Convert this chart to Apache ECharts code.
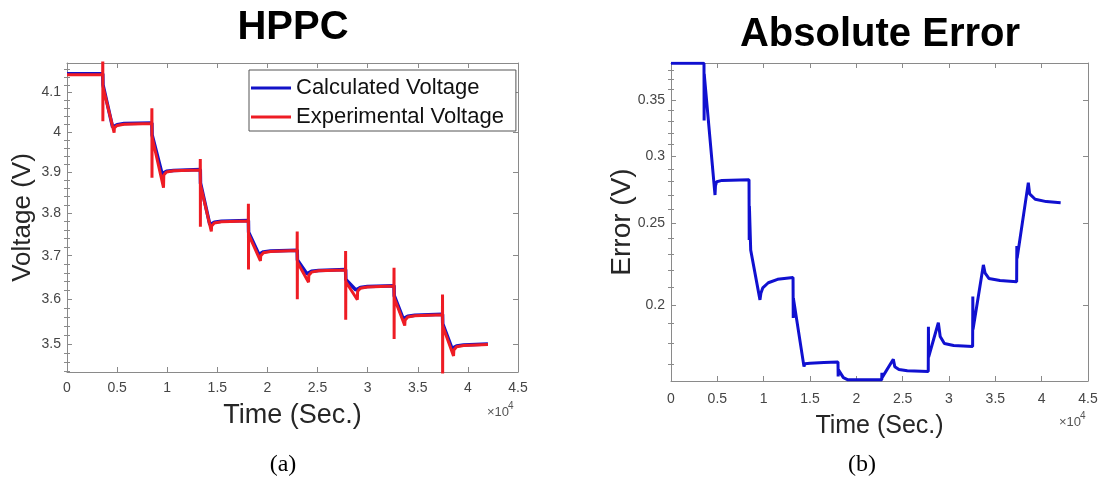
<!DOCTYPE html>
<html>
<head>
<meta charset="utf-8">
<script src="https://cdn.jsdelivr.net/npm/echarts@6/dist/echarts.min.js"></script>
<style>
  html, body { margin: 0; padding: 0; background: #fff; }
  #chart { width: 1102px; height: 480px; }
</style>
</head>
<body>
<div id="chart"></div>
<script>
// HPPC experimental voltage (red)
var expTime = [0, 3560, 3570, 3575, 3580, 3590, 4700, 4730, 5000, 5700, 8460,
    8470, 8475, 8480, 8490, 9630, 9660, 9930, 10630, 13290,
    13300, 13305, 13310, 13320, 14400, 14430, 14700, 15400, 18090,
    18100, 18105, 18110, 18120, 19300, 19330, 19600, 20300, 22960,
    22970, 22975, 22980, 22990, 24100, 24130, 24400, 25100, 27790,
    27800, 27805, 27810, 27820, 28970, 29000, 29270, 29970, 32620,
    32630, 32635, 32640, 32650, 33700, 33730, 34000, 34700, 37460,
    37470, 37475, 37480, 37490, 38570, 38600, 38870, 39570, 42000];
var expVolt = [4.146, 4.146, 4.21, 4.146, 4.027, 4.115, 3.998, 4.010, 4.016, 4.019, 4.021,
    4.06, 4.021, 3.886, 3.987, 3.862, 3.893, 3.900, 3.903, 3.905,
    3.932, 3.905, 3.768, 3.868, 3.757, 3.770, 3.777, 3.780, 3.782,
    3.823, 3.782, 3.668, 3.750, 3.688, 3.700, 3.707, 3.710, 3.712,
    3.757, 3.712, 3.600, 3.685, 3.639, 3.655, 3.662, 3.665, 3.667,
    3.711, 3.667, 3.554, 3.640, 3.599, 3.618, 3.625, 3.628, 3.630,
    3.672, 3.630, 3.511, 3.603, 3.541, 3.553, 3.560, 3.563, 3.565,
    3.611, 3.565, 3.40, 3.540, 3.474, 3.487, 3.494, 3.497, 3.499];

// model output (blue)
var calcTime = [0, 3570, 3590, 4550, 4700, 5000, 5700, 8470,
    8490, 9480, 9630, 9930, 10630, 13300,
    13320, 14250, 14400, 14700, 15400, 18100,
    18120, 19150, 19300, 19600, 20300, 22970,
    22990, 23950, 24100, 24400, 25100, 27800,
    27820, 28820, 28970, 29270, 29970, 32630,
    32650, 33550, 33700, 34000, 34700, 37470,
    37490, 38420, 38570, 38870, 39570, 42000];
var calcVolt = [4.149, 4.149, 4.120, 4.012, 4.014, 4.018, 4.021, 4.022,
    3.992, 3.896, 3.898, 3.902, 3.904, 3.906,
    3.873, 3.773, 3.775, 3.779, 3.781, 3.783,
    3.755, 3.703, 3.705, 3.709, 3.711, 3.713,
    3.690, 3.658, 3.660, 3.664, 3.666, 3.668,
    3.645, 3.621, 3.623, 3.627, 3.629, 3.631,
    3.608, 3.556, 3.558, 3.562, 3.564, 3.566,
    3.545, 3.490, 3.492, 3.496, 3.498, 3.500];

// absolute error
var errTime = [0, 3560, 3575, 3590, 3620, 4750, 4800, 4930, 5500, 8420,
    8440, 8460, 8600, 9600, 9700, 9900, 10500, 11500, 13170,
    13190, 13210, 14350, 14450, 15000, 16500, 18020,
    18040, 18070, 18600, 19100, 19300, 19600, 22740,
    22760, 22780, 23990, 24150, 24600, 25500, 27760,
    27780, 27800, 28850, 29050, 29500, 30500, 32550,
    32570, 32590, 33710, 33900, 34300, 35500, 37300,
    37320, 37350, 38560, 38700, 39300, 40500, 42050];
var errVal = [0.387, 0.387, 0.331, 0.376, 0.372, 0.270, 0.277, 0.280, 0.281, 0.2815,
    0.2388, 0.262, 0.2324, 0.2028, 0.2065, 0.2095, 0.2125, 0.2145, 0.2156,
    0.193, 0.2035, 0.169, 0.1703, 0.1706, 0.1709, 0.1711,
    0.1645, 0.1675, 0.1640, 0.1630, 0.1638, 0.1630, 0.1630,
    0.1662, 0.1640, 0.1724, 0.1690, 0.1677, 0.1671, 0.1668,
    0.1885, 0.1735, 0.1905, 0.1835, 0.1800, 0.1790, 0.1786,
    0.2046, 0.1870, 0.2231, 0.2181, 0.2150, 0.2138, 0.2131,
    0.2350, 0.2272, 0.2793, 0.2708, 0.2669, 0.2652, 0.2644];

var voltLabels = [3.5, 3.6, 3.7, 3.8, 3.9, 4, 4.1];
var voltMinor = [3.44, 3.46, 3.48, 3.52, 3.54, 3.56, 3.58, 3.62, 3.64, 3.66, 3.68,
    3.72, 3.74, 3.76, 3.78, 3.82, 3.84, 3.86, 3.88, 3.92, 3.94, 3.96, 3.98,
    4.02, 4.04, 4.06, 4.08, 4.12, 4.14, 4.16];
var errLabels = [0.2, 0.25, 0.3, 0.35];
var errMinor = [0.17, 0.18, 0.19, 0.21, 0.22, 0.23, 0.24, 0.26, 0.27, 0.28, 0.29,
    0.31, 0.32, 0.33, 0.34, 0.36, 0.37, 0.38];

function zip(xs, ys) {
    return xs.map(function (x, i) { return [x, ys[i]]; });
}

var FONT = 'Liberation Sans';
var AXIS_COLOR = '#8a8a8a';
var LABEL_COLOR = '#454545';

function fmt(v) {
    return String(parseFloat(Number(v).toPrecision(6)));
}

function xAxes(gridIndex, pos, labelMargin, nameGap, nameSize) {
    var bottom = pos === 'bottom';
    return {
        type: 'value', gridIndex: gridIndex, position: pos,
        min: 0, max: 45000, interval: 5000,
        name: bottom ? 'Time (Sec.)' : '',
        nameLocation: 'middle', nameGap: nameGap, nameMoveOverlap: false,
        nameTextStyle: { fontFamily: FONT, fontSize: nameSize, color: '#262626' },
        axisLine: { show: true, onZero: false, lineStyle: { color: AXIS_COLOR, width: 1 } },
        axisTick: { show: true, inside: true, length: 5, lineStyle: { color: AXIS_COLOR } },
        axisLabel: {
            show: bottom, margin: labelMargin, color: LABEL_COLOR, fontFamily: FONT, fontSize: 14,
            formatter: function (v) { return fmt(v / 10000); }
        },
        splitLine: { show: false }
    };
}

function yAxes(gridIndex, min, max, labels, minor, name, nameGap, nameSize) {
    var base = {
        type: 'log', gridIndex: gridIndex, min: min, max: max,
        splitLine: { show: false }
    };
    var list = [];
    ['left', 'right'].forEach(function (pos) {
        list.push(Object.assign({}, base, {
            position: pos,
            name: pos === 'left' ? name : '',
            nameLocation: 'middle', nameGap: nameGap, nameMoveOverlap: false,
            nameTextStyle: { fontFamily: FONT, fontSize: nameSize, color: '#262626' },
            axisLine: { show: true, onZero: false, lineStyle: { color: AXIS_COLOR, width: 1 } },
            axisTick: { show: true, inside: true, length: 5, customValues: labels, lineStyle: { color: AXIS_COLOR } },
            axisLabel: {
                show: pos === 'left', customValues: labels, margin: 6,
                color: LABEL_COLOR, fontFamily: FONT, fontSize: 14,
                formatter: function (v) { return fmt(v); }
            }
        }));
        list.push(Object.assign({}, base, {
            position: pos,
            axisLine: { show: false },
            axisTick: { show: true, inside: true, length: 3, customValues: minor, lineStyle: { color: AXIS_COLOR } },
            axisLabel: { show: false }
        }));
    });
    return list;
}

var chart = echarts.init(document.getElementById('chart'), null, { renderer: 'canvas' });

var option = {
    backgroundColor: '#fff',
    animation: false,
    grid: [
        { left: 67, top: 63, width: 451, height: 309 },
        { left: 671, top: 63, width: 417, height: 318 }
    ],
    xAxis: [
        xAxes(0, 'bottom', 9, 30, 27),
        xAxes(0, 'top', 9, 30, 27),
        xAxes(1, 'bottom', 11, 33, 25),
        xAxes(1, 'top', 11, 33, 25)
    ],
    yAxis: yAxes(0, 3.439, 4.177, voltLabels, voltMinor, 'Voltage (V)', 31, 26)
        .concat(yAxes(1, 0.1625, 0.3872, errLabels, errMinor, 'Error (V)', 35, 28)),
    legend: {
        data: ['Calculated Voltage', 'Experimental Voltage'],
        orient: 'vertical',
        left: 249, top: 70,
        padding: [7, 12, 3, 2],
        itemGap: 7,
        itemWidth: 40, itemHeight: 3,
        icon: 'rect',
        borderColor: '#555', borderWidth: 1,
        backgroundColor: '#fff',
        textStyle: { fontFamily: FONT, fontSize: 22, lineHeight: 22, color: '#111' }
    },
    series: [
        {
            name: 'Calculated Voltage', type: 'line', xAxisIndex: 0, yAxisIndex: 0,
            data: zip(calcTime, calcVolt), showSymbol: false, symbol: 'none',
            lineStyle: { color: '#1212c8', width: 3.5 }, itemStyle: { color: '#1212c8' },
            clip: true
        },
        {
            name: 'Experimental Voltage', type: 'line', xAxisIndex: 0, yAxisIndex: 0,
            data: zip(expTime, expVolt), showSymbol: false, symbol: 'none',
            lineStyle: { color: '#ee1c24', width: 3 }, itemStyle: { color: '#ee1c24' },
            clip: true
        },
        {
            name: 'Absolute Error', type: 'line', xAxisIndex: 2, yAxisIndex: 4,
            data: zip(errTime, errVal), showSymbol: false, symbol: 'none',
            lineStyle: { color: '#1010d0', width: 3 }, itemStyle: { color: '#1010d0' },
            clip: true
        }
    ],
    graphic: [
        { type: 'text', x: 293, y: 28, style: { text: 'HPPC', font: 'bold 40px "Liberation Sans"', fill: '#000', textAlign: 'center', textVerticalAlign: 'middle' } },
        { type: 'text', x: 880, y: 35, style: { text: 'Absolute Error', font: 'bold 40px "Liberation Sans"', fill: '#000', textAlign: 'center', textVerticalAlign: 'middle' } },
        { type: 'text', x: 283, y: 465, style: { text: '(a)', font: '24px "Liberation Serif"', fill: '#000', textAlign: 'center', textVerticalAlign: 'middle' } },
        { type: 'text', x: 862, y: 465, style: { text: '(b)', font: '24px "Liberation Serif"', fill: '#000', textAlign: 'center', textVerticalAlign: 'middle' } },
        { type: 'text', x: 487, y: 406, style: { text: '×10', font: '13px "Liberation Sans"', fill: '#555' } },
        { type: 'text', x: 508, y: 401, style: { text: '4', font: '10px "Liberation Sans"', fill: '#555' } },
        { type: 'text', x: 1059, y: 416, style: { text: '×10', font: '13px "Liberation Sans"', fill: '#555' } },
        { type: 'text', x: 1080, y: 411, style: { text: '4', font: '10px "Liberation Sans"', fill: '#555' } }
    ]
};

chart.setOption(option);
window.addEventListener('resize', chart.resize);
</script>
</body>
</html>
